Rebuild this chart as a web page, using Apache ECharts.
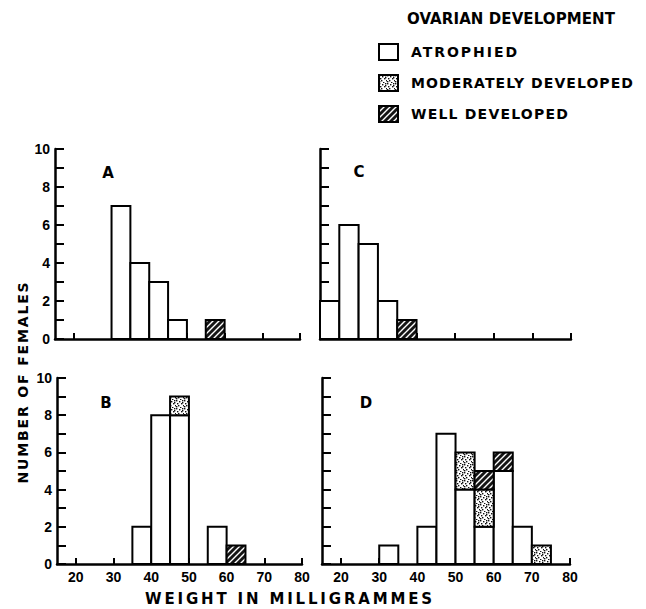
<!DOCTYPE html>
<html><head><meta charset="utf-8">
<script src="https://cdn.jsdelivr.net/npm/echarts@6/dist/echarts.min.js"></script>
<style>html,body{margin:0;padding:0;background:#fff}#main{width:646px;height:609px}</style>
</head><body><div id="main"></div>
<script>
// ---- data ----
const binStarts = [15,20,25,30,35,40,45,50,55,60,65,70,75];
const binWidth = 5;
const categories = ['ATROPHIED','MODERATELY DEVELOPED','WELL DEVELOPED'];
const panelLabels = ['A','B','C','D'];
const aAtrophied = [0,0,0,7,4,3,1,0,0,0,0,0,0];
const aModerate  = [0,0,0,0,0,0,0,0,0,0,0,0,0];
const aWell      = [0,0,0,0,0,0,0,0,1,0,0,0,0];
const bAtrophied = [0,0,0,0,2,8,8,0,2,0,0,0,0];
const bModerate  = [0,0,0,0,0,0,1,0,0,0,0,0,0];
const bWell      = [0,0,0,0,0,0,0,0,0,1,0,0,0];
const cAtrophied = [2,6,5,2,0,0,0,0,0,0,0,0,0];
const cModerate  = [0,0,0,0,0,0,0,0,0,0,0,0,0];
const cWell      = [0,0,0,0,1,0,0,0,0,0,0,0,0];
const dAtrophied = [0,0,0,1,0,2,7,4,2,5,2,0,0];
const dModerate  = [0,0,0,0,0,0,0,2,2,0,0,1,0];
const dWell      = [0,0,0,0,0,0,0,0,1,1,0,0,0];
const xTickValues = [20,30,40,50,60,70,80];
const yTickLabels = [0,2,4,6,8,10];
const legendTitle = 'OVARIAN DEVELOPMENT';
const xTitle = 'WEIGHT IN MILLIGRAMMES';
const yTitle = 'NUMBER OF FEMALES';

const panelData = [
  [aAtrophied, aModerate, aWell],
  [bAtrophied, bModerate, bWell],
  [cAtrophied, cModerate, cWell],
  [dAtrophied, dModerate, dWell]
];

// ---- layout / style ----
const grids = [
  {left:55, top:149, width:245, height:190},
  {left:57, top:378, width:245, height:186},
  {left:320, top:149, width:251, height:190},
  {left:322, top:378, width:248, height:186}
];
const letterPos = [[108,173],[106,403],[359,172],[366,403]];
const showYLabels = [true,true,false,false];
const showXLabels = [false,true,false,true];

function makeHatch(){
  const c=document.createElement('canvas'); c.width=c.height=6;
  const g=c.getContext('2d'); g.fillStyle='#151515'; g.fillRect(0,0,6,6);
  g.strokeStyle='#fff'; g.lineWidth=1.4; g.beginPath();
  g.moveTo(-1,7); g.lineTo(7,-1); g.moveTo(-1,1); g.lineTo(1,-1); g.moveTo(5,7); g.lineTo(7,5);
  g.stroke(); return c;
}
function makeStipple(){
  const c=document.createElement('canvas'); c.width=c.height=8;
  const g=c.getContext('2d'); g.fillStyle='#fff'; g.fillRect(0,0,8,8);
  g.fillStyle='#111';
  [[0,0],[3,1],[6,0],[1,3],[5,3],[2,5],[7,5],[0,6],[4,7],[6,2]].forEach(p=>g.fillRect(p[0],p[1],1.4,1.4));
  return c;
}
const hatch = {image: makeHatch().toDataURL(), repeat:'repeat', imageWidth:6, imageHeight:6};
const stipple = {image: makeStipple().toDataURL(), repeat:'repeat', imageWidth:8, imageHeight:8};
const fills = ['#ffffff', stipple, hatch];

const numFont = {fontFamily:'Liberation Sans', fontWeight:'bold', fontSize:14, color:'#000'};
const wordFont = {fontFamily:'DejaVu Sans', fontWeight:'bold', color:'#000'};

function renderBar(params, api){
  const p0 = api.coord([api.value(0), api.value(2)]);
  const p1 = api.coord([api.value(1), api.value(3)]);
  return {type:'rect', shape:{x:p0[0], y:p1[1], width:p1[0]-p0[0], height:p0[1]-p1[1]},
    style:{fill: fills[api.value(4)], stroke:'#000', lineWidth:2}};
}

const xAxes = [], yAxes = [], series = [];
grids.forEach((g,p)=>{
  xAxes.push({gridIndex:p, type:'value', min:15, max:80,
    axisLine:{show:true, onZero:false, lineStyle:{color:'#000', width:2.5}},
    axisTick:{show:true, inside:true, length:6, customValues:xTickValues, lineStyle:{color:'#000', width:2}},
    axisLabel:{show:showXLabels[p], customValues:xTickValues, margin:6, ...numFont},
    splitLine:{show:false}});
  yAxes.push({gridIndex:p, type:'value', min:0, max:10, interval:1,
    axisLine:{show:true, lineStyle:{color:'#000', width:2.5}},
    axisTick:{show:true, inside:true, length:9, lineStyle:{color:'#000', width:2}},
    axisLabel:{show:showYLabels[p], customValues:yTickLabels, margin:5, ...numFont},
    splitLine:{show:false}});
  const base = binStarts.map(()=>0);
  panelData[p].forEach((vals,c)=>{
    const data=[];
    vals.forEach((v,i)=>{
      if(v>0){ data.push([binStarts[i], binStarts[i]+binWidth, base[i], base[i]+v, c]); base[i]+=v; }
    });
    series.push({type:'custom', name:categories[c], xAxisIndex:p, yAxisIndex:p,
      renderItem:renderBar, encode:{x:[0,1], y:[2,3]}, data,
      itemStyle:{color:fills[c], borderColor:'#000', borderWidth:2}, silent:true});
  });
});

const graphics = panelLabels.map((t,i)=>({type:'text', x:letterPos[i][0], y:letterPos[i][1],
  style:{text:t, textAlign:'center', textVerticalAlign:'middle', font:'bold 15px "DejaVu Sans"', fill:'#000'}}));
graphics.push({type:'text', x:290, y:599, style:{text:xTitle, textAlign:'center', textVerticalAlign:'middle', font:'bold 15px "DejaVu Sans"', fill:'#000'}});
graphics.push({type:'text', x:23, y:382, rotation:Math.PI/2, style:{text:yTitle, textAlign:'center', textVerticalAlign:'middle', font:'bold 14px "DejaVu Sans"', fill:'#000'}});

const option = {
  animation:false,
  backgroundColor:'#fff',
  title:{text:legendTitle, left:407, top:11, padding:0, textStyle:{...wordFont, fontSize:15}},
  legend:{orient:'vertical', left:378, top:43, padding:0, itemWidth:19, itemHeight:16, itemGap:13, selectedMode:false,
    icon:'rect', textStyle:{...wordFont, fontSize:14, padding:[0,0,0,8]},
    data:categories.map((n,i)=>({name:n, itemStyle:{color:fills[i], borderColor:'#000', borderWidth:2}}))},
  grid:grids,
  xAxis:xAxes, yAxis:yAxes, series, graphic:graphics
};

const chart = echarts.init(document.getElementById('main'), null, {renderer:'svg'});
chart.setOption(option);

// letter spacing to mimic the wide hand lettering
const textWidths = {};
textWidths[legendTitle]=208; textWidths[xTitle]=290; textWidths[yTitle]=203;
textWidths['ATROPHIED']=108; textWidths['MODERATELY DEVELOPED']=223; textWidths['WELL DEVELOPED']=158;
let spaced=false;
function applySpacing(){
  if(spaced) return; spaced=true;
  document.querySelectorAll('#main svg text').forEach(t=>{
    const s=t.textContent; const tw=textWidths[s];
    if(tw){ const w=t.getComputedTextLength(); t.setAttribute('letter-spacing', ((tw-w)/s.length).toFixed(2)+'px'); }
  });
}
chart.on('finished', applySpacing);
setTimeout(applySpacing, 50);
</script></body></html>
